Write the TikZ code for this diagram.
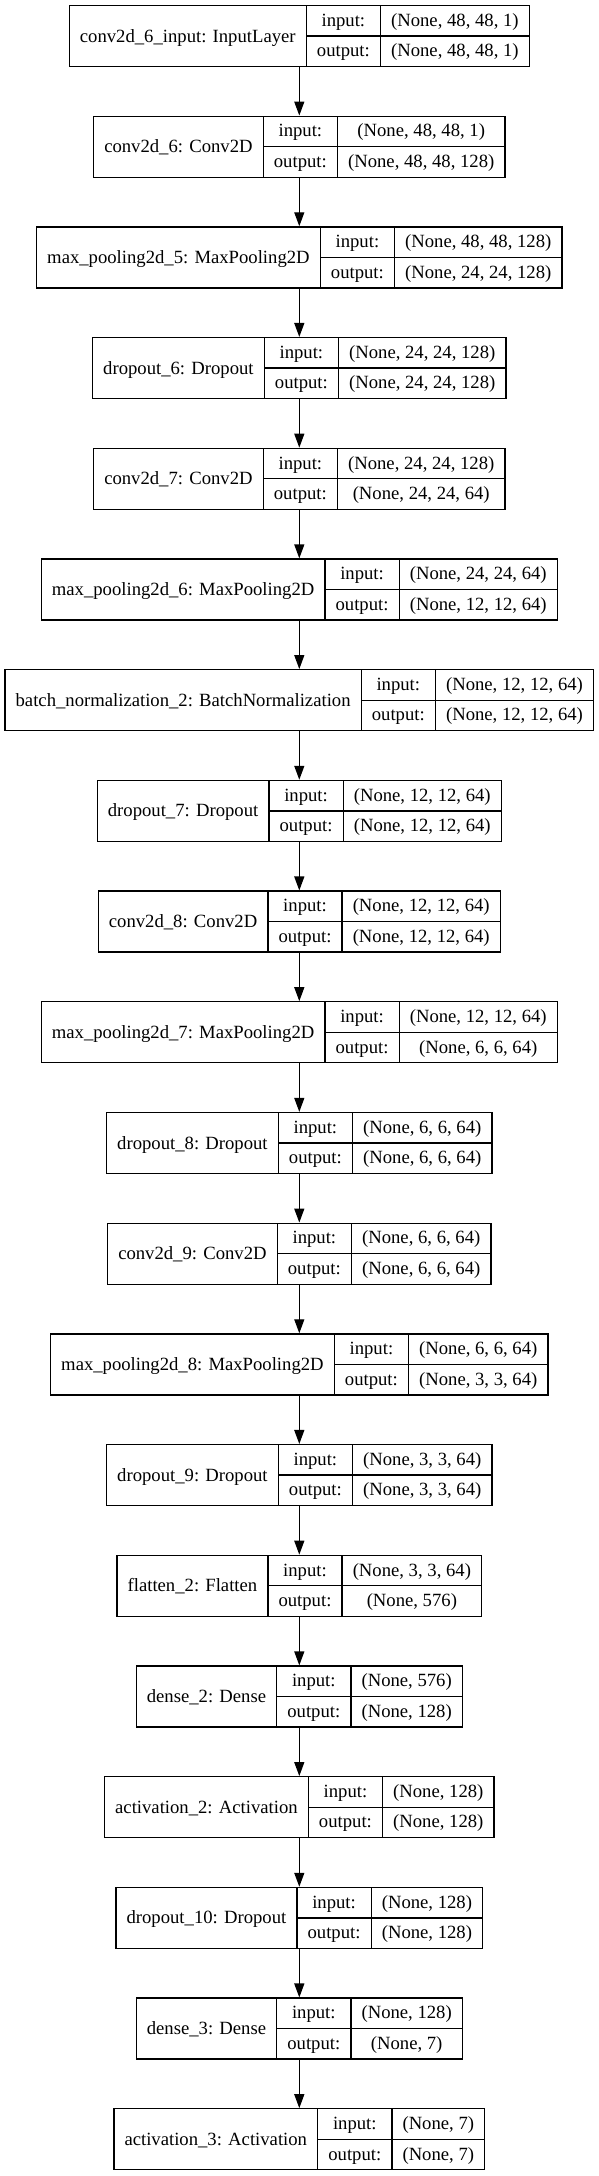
\documentclass[tikz,border=0pt]{standalone}
\usepackage{fontspec}
\setmainfont{Liberation Serif}
\usetikzlibrary{arrows.meta}
\newlength\wlab
\newlength\wvin
\newlength\wvout
\newlength\wio
\newcommand\layerfont{\fontsize{18.67}{22}\selectfont}
\newcommand\measure[2]{\pgfinterruptpicture\settowidth{#1}{\layerfont #2}\global#1=#1\endpgfinterruptpicture}

\begin{document}
\begin{tikzpicture}[x=1pt,y=1pt,
    cell/.style={font=\layerfont,inner sep=0pt,anchor=base},
    layer/.style={draw,line width=1.3pt,minimum height=61pt,inner sep=0pt},
    rule/.style={line width=1.3pt},
    link/.style={-{Triangle[length=14pt,width=10pt]},line width=1.3pt}]
\useasboundingbox (0,0) rectangle (599,-2176);
\measure{\wio}{output:}
\foreach \i/\lab/\vin/\vout in {
    0/{conv2d\_6\_input: InputLayer}/{(None, 48, 48, 1)}/{(None, 48, 48, 1)},
    1/{conv2d\_6: Conv2D}/{(None, 48, 48, 1)}/{(None, 48, 48, 128)},
    2/{max\_pooling2d\_5: MaxPooling2D}/{(None, 48, 48, 128)}/{(None, 24, 24, 128)},
    3/{dropout\_6: Dropout}/{(None, 24, 24, 128)}/{(None, 24, 24, 128)},
    4/{conv2d\_7: Conv2D}/{(None, 24, 24, 128)}/{(None, 24, 24, 64)},
    5/{max\_pooling2d\_6: MaxPooling2D}/{(None, 24, 24, 64)}/{(None, 12, 12, 64)},
    6/{batch\_normalization\_2: BatchNormalization}/{(None, 12, 12, 64)}/{(None, 12, 12, 64)},
    7/{dropout\_7: Dropout}/{(None, 12, 12, 64)}/{(None, 12, 12, 64)},
    8/{conv2d\_8: Conv2D}/{(None, 12, 12, 64)}/{(None, 12, 12, 64)},
    9/{max\_pooling2d\_7: MaxPooling2D}/{(None, 12, 12, 64)}/{(None, 6, 6, 64)},
    10/{dropout\_8: Dropout}/{(None, 6, 6, 64)}/{(None, 6, 6, 64)},
    11/{conv2d\_9: Conv2D}/{(None, 6, 6, 64)}/{(None, 6, 6, 64)},
    12/{max\_pooling2d\_8: MaxPooling2D}/{(None, 6, 6, 64)}/{(None, 3, 3, 64)},
    13/{dropout\_9: Dropout}/{(None, 3, 3, 64)}/{(None, 3, 3, 64)},
    14/{flatten\_2: Flatten}/{(None, 3, 3, 64)}/{(None, 576)},
    15/{dense\_2: Dense}/{(None, 576)}/{(None, 128)},
    16/{activation\_2: Activation}/{(None, 128)}/{(None, 128)},
    17/{dropout\_10: Dropout}/{(None, 128)}/{(None, 128)},
    18/{dense\_3: Dense}/{(None, 128)}/{(None, 7)},
    19/{activation\_3: Activation}/{(None, 7)}/{(None, 7)}} {
    \measure{\wlab}{\lab}
    \measure{\wvin}{\vin}
    \measure{\wvout}{\vout}
    \pgfmathsetmacro\wa{\wlab+21.3}
    \pgfmathsetmacro\wb{\wio+21.3}
    \pgfmathsetmacro\wc{max(\wvin,\wvout)+21.3}
    \pgfmathsetmacro\W{\wa+\wb+\wc}
    \pgfmathsetmacro\xl{299.3-\W/2}
    \pgfmathsetmacro\yt{-5.5-110.7*\i}
    \pgfmathsetmacro\yc{\yt-30.5}
    \node[layer,minimum width=\W pt] (box\i) at (299.3,\yc) {};
    \draw[rule] (\xl+\wa,\yt) -- (\xl+\wa,\yt-61);
    \draw[rule] (\xl+\wa+\wb,\yt) -- (\xl+\wa+\wb,\yt-61);
    \draw[rule] (\xl+\wa,\yc) -- (\xl+\W,\yc);
    \node[cell] (name\i) at (\xl+\wa/2,\yc-6) {\lab};
    \node[cell] (in\i) at (\xl+\wa+\wb/2,\yc+15.25-5.5) {input:};
    \node[cell] (out\i) at (\xl+\wa+\wb/2,\yc-15.25-5.5) {output:};
    \node[cell] (vin\i) at (\xl+\wa+\wb+\wc/2,\yc+15.25-5.5) {\vin};
    \node[cell] (vout\i) at (\xl+\wa+\wb+\wc/2,\yc-15.25-5.5) {\vout};
}
\foreach \i [evaluate=\i as \j using int(\i+1)] in {0,...,18}
    \draw[link] (box\i.south) -- (box\j.north);
\end{tikzpicture}
\end{document}
